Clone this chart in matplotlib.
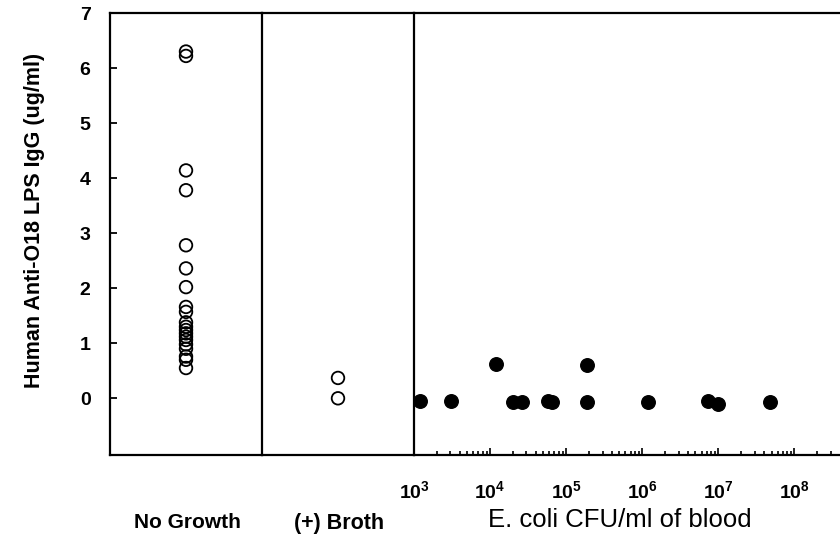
import matplotlib
matplotlib.use("Agg")
import matplotlib.pyplot as plt
from matplotlib.ticker import LogLocator, FixedLocator, NullFormatter

# ---- data ----
no_growth = [6.30, 6.22, 4.14, 3.78, 2.78, 2.36, 2.02, 1.66, 1.57, 1.38,
             1.30, 1.24, 1.18, 1.12, 1.06, 0.98, 0.90, 0.76, 0.70, 0.55]
broth = [0.37, 0.0]
cfu = [1.2e3, 3.1e3, 1.2e4, 2.0e4, 2.6e4, 5.8e4, 6.6e4, 1.9e5, 1.9e5,
       1.2e6, 7.2e6, 1.0e7, 4.8e7]
igg = [-0.04, -0.04, 0.63, -0.07, -0.07, -0.04, -0.07, 0.61, -0.07,
       -0.07, -0.05, -0.11, -0.07]
y_ticks = [0, 1, 2, 3, 4, 5, 6, 7]
x_decades = [1e3, 1e4, 1e5, 1e6, 1e7, 1e8]
x_tick_labels = [r'$\mathbf{10^{3}}$', r'$\mathbf{10^{4}}$', r'$\mathbf{10^{5}}$',
                 r'$\mathbf{10^{6}}$', r'$\mathbf{10^{7}}$', r'$\mathbf{10^{8}}$']
group_labels = ["No Growth", "(+) Broth"]
xlabel = "E. coli CFU/ml of blood"
ylabel = "Human Anti-O18 LPS IgG (ug/ml)"

plt.rcParams['font.family'] = ['Liberation Sans', 'DejaVu Sans']
plt.rcParams['mathtext.fontset'] = 'custom'
plt.rcParams['mathtext.rm'] = 'Liberation Sans'
plt.rcParams['mathtext.bf'] = 'Liberation Sans:bold'

W, H = 840, 539
fig = plt.figure(figsize=(8.4, 5.39), dpi=100)

def fx(px):
    return px / W

def fy(py):
    return 1 - py / H

bottom = fy(455)
height = fy(13) - bottom
ax1 = fig.add_axes([fx(110), bottom, fx(262) - fx(110), height])
ax2 = fig.add_axes([fx(262), bottom, fx(414) - fx(262), height])
ax3 = fig.add_axes([fx(414), bottom, fx(840) - fx(414), height])

ylim = (-1.03, 7.0)
lw = 1.6
for ax in (ax1, ax2, ax3):
    ax.set_ylim(*ylim)
    ax.set_facecolor('none')
    for s in ax.spines.values():
        s.set_linewidth(lw)
        s.set_color('black')

# panel 1
ax1.scatter([0] * len(no_growth), no_growth, s=82, facecolors='none',
            edgecolors='black', linewidths=1.3, zorder=3)
ax1.set_xlim(-1, 1)
ax1.set_xticks([])
ax1.set_yticks(y_ticks)
ax1.set_yticklabels([str(t) for t in y_ticks], fontsize=14, fontweight='bold')
ax1.tick_params(axis='y', direction='in', length=5, width=1.3, pad=14)

# panel 2
ax2.scatter([0] * len(broth), broth, s=82, facecolors='none',
            edgecolors='black', linewidths=1.3, zorder=3)
ax2.set_xlim(-1, 1)
ax2.set_xticks([])
ax2.set_yticks([])
ax2.spines['left'].set_visible(False)

# panel 3
ax3.scatter(cfu, igg, s=95, color='black', zorder=3)
ax3.set_xscale('log')
ax3.set_xlim(1e3, 10 ** 8.598)
ax3.set_yticks([])
ax3.spines['right'].set_visible(False)
ax3.spines['left'].set_visible(False)
ax3.xaxis.set_major_locator(FixedLocator(x_decades))
ax3.set_xticklabels(x_tick_labels, fontsize=14)
ax3.xaxis.set_minor_locator(LogLocator(base=10, subs=[2, 3, 4, 5, 6, 7, 8, 9], numticks=20))
ax3.xaxis.set_minor_formatter(NullFormatter())
ax3.tick_params(axis='x', which='major', direction='in', length=5, width=1.2, pad=18)
ax3.tick_params(axis='x', which='minor', direction='in', length=3, width=1.2)

# labels
fig.text(fx(35), fy(220), ylabel, rotation=90, ha='center', va='center',
         fontsize=15.5, fontweight='bold')
fig.text(fx(187), fy(523), group_labels[0], ha='center', va='center',
         fontsize=15, fontweight='bold')
fig.text(fx(339), fy(523), group_labels[1], ha='center', va='center',
         fontsize=15.5, fontweight='bold')
fig.text(fx(620), fy(520), xlabel, ha='center', va='center', fontsize=18.5)

fig.savefig("out.png", dpi=100)
